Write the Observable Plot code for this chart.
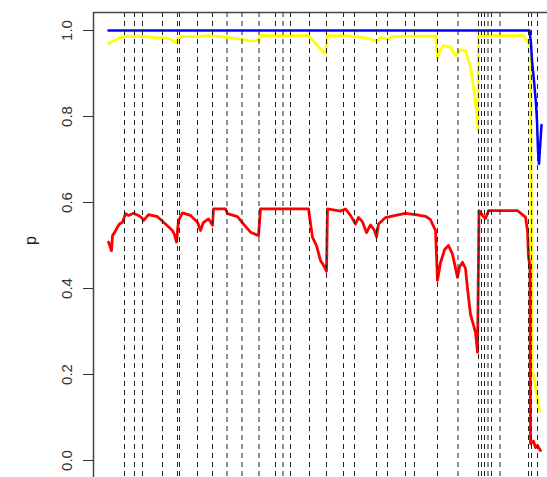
<!DOCTYPE html>
<html>
<head>
<meta charset="utf-8">
<script src="https://cdn.jsdelivr.net/npm/d3@7"></script>
<script src="https://cdn.jsdelivr.net/npm/@observablehq/plot@0.6"></script>
<style>
  html, body { margin: 0; padding: 0; background: #fff; overflow: hidden; }
  #chart svg { display: block; }
</style>
</head>
<body>
<div id="chart"></div>
<script>
// Position along the sequence (arbitrary index units)
const breakPositions = [16, 26, 34, 54, 69, 71, 89, 104, 118.5, 133.5, 150.5, 167, 174.5, 182, 201, 218, 235, 246, 268, 279, 297, 306, 329, 349.5, 370, 373, 376, 379.5, 383, 391.5, 420, 423, 429];

const blueX = [0, 421, 422.5, 423.5, 424.5, 426, 427.5, 428.5, 429.5, 430.5, 432, 433];
const blueP = [1.0, 1.0, 0.97, 0.93, 0.907, 0.87, 0.83, 0.79, 0.72, 0.69, 0.744, 0.78];

const yellowX = [0, 4, 7, 12, 17, 27, 37, 49, 57, 62, 68, 70, 74, 87, 99, 112, 132, 145, 150, 152, 200, 207, 212, 217, 219, 235, 247, 255, 262, 269, 272, 279, 285, 302, 327, 329, 332, 335, 342, 347, 352, 357, 362, 365, 368.5, 369.5, 370, 415, 420, 422, 423, 423.5, 425, 427, 430, 431];
const yellowP = [0.97, 0.975, 0.978, 0.984, 0.986, 0.987, 0.986, 0.983, 0.983, 0.98, 0.971, 0.983, 0.986, 0.986, 0.988, 0.986, 0.98, 0.975, 0.978, 0.988, 0.988, 0.97, 0.957, 0.946, 0.988, 0.988, 0.986, 0.984, 0.98, 0.975, 0.984, 0.98, 0.986, 0.987, 0.987, 0.938, 0.955, 0.965, 0.961, 0.942, 0.955, 0.953, 0.915, 0.868, 0.8, 0.77, 0.988, 0.988, 0.97, 0.953, 0.5, 0.2, 0.2, 0.17, 0.13, 0.115];

const redX = [0, 3, 4, 6, 9, 11, 14, 17, 20, 25, 30, 33, 35, 40, 49, 57, 64, 66, 68, 70, 74, 82, 89, 92, 95, 100, 104, 105, 117, 119, 129, 135, 142, 150, 152, 200, 204, 208, 212, 216, 218, 219, 232, 237, 242, 247, 250, 254, 258, 262, 266, 268, 270, 277, 287, 297, 307, 317, 322, 327, 329, 332, 336, 340, 344, 349, 351, 354, 357, 359, 362, 367, 369, 370.5, 374, 377, 380, 409, 417, 419, 420, 421.5, 422, 425, 427, 429, 432];
const redP = [0.508, 0.488, 0.523, 0.53, 0.543, 0.55, 0.554, 0.574, 0.57, 0.575, 0.57, 0.565, 0.558, 0.572, 0.567, 0.55, 0.535, 0.525, 0.508, 0.558, 0.576, 0.57, 0.554, 0.535, 0.554, 0.562, 0.547, 0.585, 0.585, 0.574, 0.567, 0.55, 0.531, 0.523, 0.585, 0.585, 0.519, 0.5, 0.465, 0.45, 0.44, 0.585, 0.58, 0.585, 0.57, 0.55, 0.565, 0.555, 0.53, 0.548, 0.535, 0.52, 0.55, 0.565, 0.57, 0.575, 0.572, 0.568, 0.56, 0.535, 0.419, 0.46, 0.49, 0.5, 0.48, 0.426, 0.45, 0.461, 0.447, 0.4, 0.34, 0.298, 0.252, 0.581, 0.57, 0.563, 0.581, 0.581, 0.566, 0.535, 0.473, 0.45, 0.039, 0.045, 0.03, 0.035, 0.023];

const yTicks = [0, 0.2, 0.4, 0.6, 0.8, 1.0];

const toRows = (xs, ps) => xs.map((x, i) => ({x, p: ps[i]}));
const blue = toRows(blueX, blueP);
const yellow = toRows(yellowX, yellowP);
const red = toRows(redX, redP);

const xDomain = [-15, 439];
const yDomain = [-0.0395, 1.0419];

const chart = Plot.plot({
  width: 547,
  height: 477,
  marginLeft: 93,
  marginTop: 12,
  marginRight: 0,
  marginBottom: 0,
  style: {fontFamily: "Liberation Sans, Arial, sans-serif", color: "#333"},
  x: {domain: xDomain, axis: null},
  y: {domain: yDomain},
  marks: [
    Plot.line(yellow, {x: "x", y: "p", stroke: "#ffff00", strokeWidth: 2.8}),
    Plot.line(blue, {x: "x", y: "p", stroke: "#0000ff", strokeWidth: 2.5}),
    Plot.line(red, {x: "x", y: "p", stroke: "#ff0000", strokeWidth: 2.8}),
    Plot.ruleX(breakPositions, {stroke: "#222", strokeWidth: 1, strokeDasharray: "5,4"}),
    Plot.ruleX([xDomain[0]], {stroke: "#444", strokeWidth: 1.5}),
    Plot.ruleY([yDomain[1]], {stroke: "#444", strokeWidth: 1.5}),
    Plot.axisY(yTicks, {
      tickSize: 10,
      tickPadding: 12,
      tickRotate: -90,
      fontSize: 15,
      tickFormat: d3.format(".1f"),
      stroke: "#333",
      label: null
    }),
    Plot.text(["p"], {frameAnchor: "left", dx: -63, rotate: -90, fontSize: 16, fill: "#222"})
  ]
});
document.getElementById("chart").appendChild(chart);
</script>
</body>
</html>
